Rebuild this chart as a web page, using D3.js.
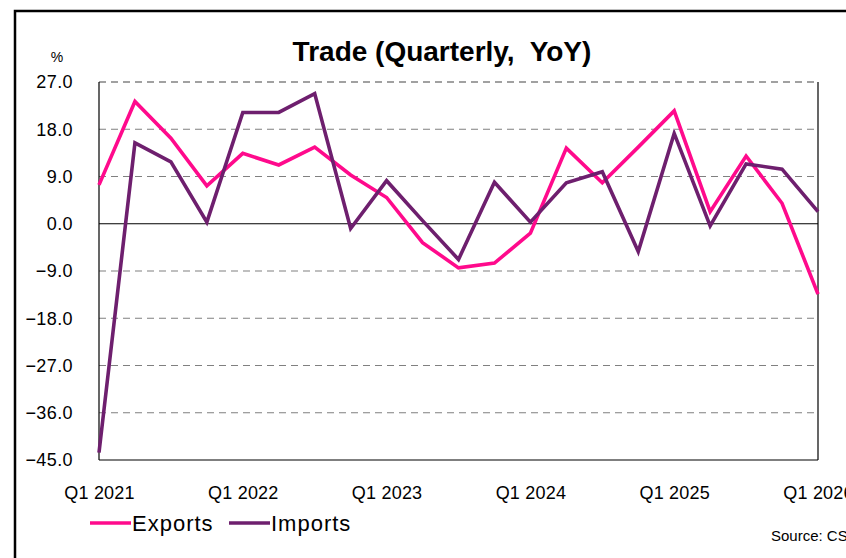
<!DOCTYPE html>
<html><head><meta charset="utf-8">
<script src="https://cdn.jsdelivr.net/npm/d3@7/dist/d3.min.js"></script>
<style>body{margin:0;background:#fff;} svg{display:block;font-family:"Liberation Sans",Arial,sans-serif;}</style>
</head><body>
<script>
const quarters = ["Q1 2021","Q2 2021","Q3 2021","Q4 2021","Q1 2022","Q2 2022","Q3 2022","Q4 2022","Q1 2023","Q2 2023","Q3 2023","Q4 2023","Q1 2024","Q2 2024","Q3 2024","Q4 2024","Q1 2025","Q2 2025","Q3 2025","Q4 2025","Q1 2026"];
const exportsYoY = [7.4,23.3,16.3,7.2,13.4,11.2,14.6,9.3,5.0,-3.6,-8.4,-7.5,-1.8,14.4,7.8,14.6,21.5,2.3,12.9,3.9,-13.4];
const importsYoY = [-43.6,15.4,11.8,0.3,21.2,21.2,24.8,-0.9,8.2,0.6,-6.8,7.9,0.3,7.8,9.9,-5.3,17.2,-0.4,11.4,10.4,2.3];
const yTicks = [27,18,9,0,-9,-18,-27,-36,-45];
const xTickLabels = ["Q1 2021","Q1 2022","Q1 2023","Q1 2024","Q1 2025","Q1 2026"];
const seriesNames = ["Exports","Imports"];
const colors = ["#FF0A8C","#6E1F6E"];

const W=846,H=558;
const svg=d3.select("body").append("svg").attr("width",W).attr("height",H);
svg.append("rect").attr("width",W).attr("height",H).attr("fill","#fff");
// outer frame (cropped)
svg.append("rect").attr("x",15).attr("y",11).attr("width",1000).attr("height",700)
  .attr("fill","none").attr("stroke","#000").attr("stroke-width",2.5);

const L=99,R=818,T=82,B=460;
const x=d3.scalePoint().domain(quarters).range([L,R]);
const y=d3.scaleLinear().domain([-45,27]).range([B,T]);

// gridlines
const g=svg.append("g");
g.selectAll("line.grid").data(yTicks.filter(v=>v!==0 && v!==-45)).enter().append("line")
  .attr("x1",L).attr("x2",R).attr("y1",d=>y(d)).attr("y2",d=>y(d))
  .attr("stroke",d=>d===27?"#444":"#808080").attr("stroke-width",1.2).attr("stroke-dasharray","7,5");
// zero line
g.append("line").attr("x1",L).attr("x2",R).attr("y1",y(0)).attr("y2",y(0)).attr("stroke","#000").attr("stroke-width",1.2);
// plot borders
g.append("line").attr("x1",L).attr("x2",L).attr("y1",T).attr("y2",B).attr("stroke","#000").attr("stroke-width",1.2);
g.append("line").attr("x1",R).attr("x2",R).attr("y1",T).attr("y2",B).attr("stroke","#000").attr("stroke-width",1.2);
g.append("line").attr("x1",L).attr("x2",R).attr("y1",B).attr("y2",B).attr("stroke","#000").attr("stroke-width",1.2);

// y axis labels
const yAxis=d3.axisLeft(y).tickValues(yTicks).tickFormat(d3.format(".1f")).tickSize(0).tickPadding(26);
const ya=svg.append("g").attr("transform",`translate(${L},0)`).call(yAxis);
ya.select(".domain").remove();
ya.selectAll("text").attr("font-size",18).attr("fill","#000").attr("letter-spacing","0.4")
  .attr("font-family","'Liberation Sans',Arial,sans-serif");

// x axis labels
const xAxis=d3.axisBottom(x).tickValues(xTickLabels).tickSize(0).tickPadding(26);
const xa=svg.append("g").attr("transform",`translate(0,${B})`).call(xAxis);
xa.select(".domain").remove();
xa.selectAll("text").attr("font-size",18).attr("fill","#000").attr("letter-spacing","0.2")
  .attr("font-family","'Liberation Sans',Arial,sans-serif");

// lines
const line=d3.line().x((d,i)=>x(quarters[i])).y(d=>y(d));
[exportsYoY,importsYoY].forEach((s,k)=>{
  svg.append("path").datum(s).attr("d",line).attr("fill","none")
    .attr("stroke",colors[k]).attr("stroke-width",3.6).attr("stroke-linejoin","miter").attr("stroke-miterlimit",10);
});

// title
svg.append("text").attr("x",442).attr("y",61).attr("text-anchor","middle")
  .attr("font-size",28).attr("font-weight","bold").attr("fill","#000").attr("xml:space","preserve")
  .style("white-space","pre").text("Trade (Quarterly,  YoY)");
// unit
svg.append("text").attr("x",57).attr("y",62).attr("text-anchor","middle").attr("font-size",14).text("%");

// legend
const leg=[{x0:90,name:seriesNames[0],c:colors[0]},{x0:229,name:seriesNames[1],c:colors[1]}];
leg.forEach(d=>{
  svg.append("line").attr("x1",d.x0).attr("x2",d.x0+41).attr("y1",523).attr("y2",523)
    .attr("stroke",d.c).attr("stroke-width",3.6);
  svg.append("text").attr("x",d.x0+42).attr("y",531).attr("font-size",22).attr("letter-spacing","1")
    .attr("fill","#000").text(d.name);
});
// source
svg.append("text").attr("x",771).attr("y",541).attr("font-size",15).attr("fill","#000").text("Source: CSO");
</script>
</body></html>
